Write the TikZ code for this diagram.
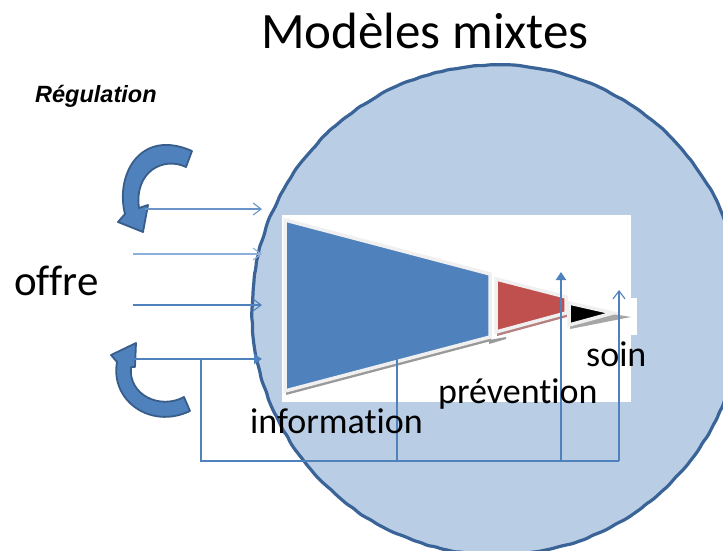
\documentclass[tikz,border=0pt]{standalone}
\usepackage{fontspec}
\setmainfont{Carlito}[Ligatures=NoCommon]
\newfontfamily\arialfont{Liberation Sans}
\usetikzlibrary{arrows.meta,decorations.pathmorphing}

\definecolor{disc}{HTML}{B9CDE5}
\definecolor{discedge}{HTML}{3A6497}
\definecolor{accent}{HTML}{4F81BD}
\definecolor{accentdark}{HTML}{385D8A}
\definecolor{pale}{HTML}{8DB0DA}
\definecolor{redpart}{HTML}{C0504D}
\definecolor{rim}{HTML}{F0F0F0}

\tikzset{
  label/.style={inner sep=0pt, anchor=base west, font=\fontsize{36}{40}\selectfont},
  thinflow/.style={draw=accent, line width=1.1pt, -{Straight Barb[length=8pt,width=12pt,line width=1.1pt]}},
  thickflow/.style={draw=accent, line width=2.8pt, -{Triangle[length=8pt,width=10pt]}},
  curl/.style={fill=accent, draw=accentdark, line width=1.8pt, line join=round},
  piece/.style={draw=rim, line width=3.5pt, line join=miter},
}

\begin{document}
\pgfmathsetseed{11}
\begin{tikzpicture}[x=1pt,y=-1pt]
\useasboundingbox (0,0) rectangle (723,550);
\clip (0,0) rectangle (723,550);

% large disc
\draw[fill=disc, draw=discedge, line width=3.2pt,
      decoration={random steps,segment length=7pt,amplitude=0.6pt}, decorate, rounded corners=2pt]
  (497,310) circle [radius=245];

% white panel behind the cone
\fill[white] (282,215) rectangle (631,402);
\fill[white] (631,298) rectangle (637,335);

% drop shadows of the cone pieces
\begin{scope}[shift={(1,4)}]
  \fill[black!40] (285,220) -- (490,274) -- (490,337) -- (285,391) -- cycle;
  \fill[black!40] (488,336) -- (505,333) -- (505,335) -- (488,340) -- cycle;
  \fill[black!25!redpart!65] (496,279) -- (566,297) -- (566,313) -- (496,332) -- cycle;
  \fill[black!35] (569,303) -- (630,313) -- (569,325) -- cycle;
\end{scope}

% cone pieces
\filldraw[piece, fill=accent] (285,220) -- (490,274) -- (490,337) -- (285,391) -- cycle;
\filldraw[piece, fill=redpart] (496,279) -- (566,297) -- (566,313) -- (496,332) -- cycle;
\filldraw[piece, fill=black] (569,303) -- (613,313) -- (569,325) -- cycle;

% curved arrows
\filldraw[curl] (192,151) -- (186,167)
  .. controls (163,156) and (134,172) .. (139,208)
  -- (148,205) -- (143,232) -- (118,222) -- (125,214)
  .. controls (115,175) and (140,128) .. (192,151) -- cycle;
\filldraw[curl] (184,397) -- (190,411)
  .. controls (150,430) and (110,400) .. (117,362)
  -- (111,355) -- (136,343) -- (135,367) -- (131,367)
  .. controls (128,395) and (160,410) .. (184,397) -- cycle;

% connector end points
\coordinate (a1) at (145,209); \coordinate (b1) at (262,209);
\coordinate (a2) at (133,254); \coordinate (b2) at (262,254);
\coordinate (a3) at (133,305); \coordinate (b3) at (262,305);
\coordinate (a4) at (133,359); \coordinate (b4) at (262,359);
\coordinate (j0) at (201,359);
\coordinate (j1) at (201,461);
\coordinate (j2) at (397,461); \coordinate (t2) at (397,297);
\coordinate (j3) at (561,461); \coordinate (t3) at (561,272);
\coordinate (j4) at (619,461); \coordinate (t4) at (619,290);

% inflows
\draw[thinflow, draw=accent!85] (a1) -- (b1);
\draw[thinflow, draw=pale, line width=1.4pt] (a2) -- (b2);
\draw[thinflow] (a3) -- (b3);
\draw[thickflow] (a4) -- (b4);

% feedback loop
\draw[draw=accent, line width=2.8pt, line join=miter] (j0) -- (j1) -- (j4);
\draw[thinflow] (j2) -- (t2);
\draw[thickflow] (j3) -- (t3);
\draw[thinflow] (j4) -- (t4);

% texts
\node[inner sep=0pt, anchor=base, font=\fontsize{51}{56}\selectfont] (title) at (425,48) {Modèles mixtes};
\node[inner sep=0pt, anchor=base west, font=\arialfont\bfseries\itshape\fontsize{23.5}{27}\selectfont] (reg) at (35,102) {Régulation};
\node[inner sep=0pt, anchor=base west, font=\fontsize{43}{48}\selectfont] (offre) at (14,295) {offre};
\node[label] (info) at (250,433) {information};
\node[label] (prev) at (438,403) {prévention};
\node[label] (soin) at (586,366) {soin};
\end{tikzpicture}
\end{document}
